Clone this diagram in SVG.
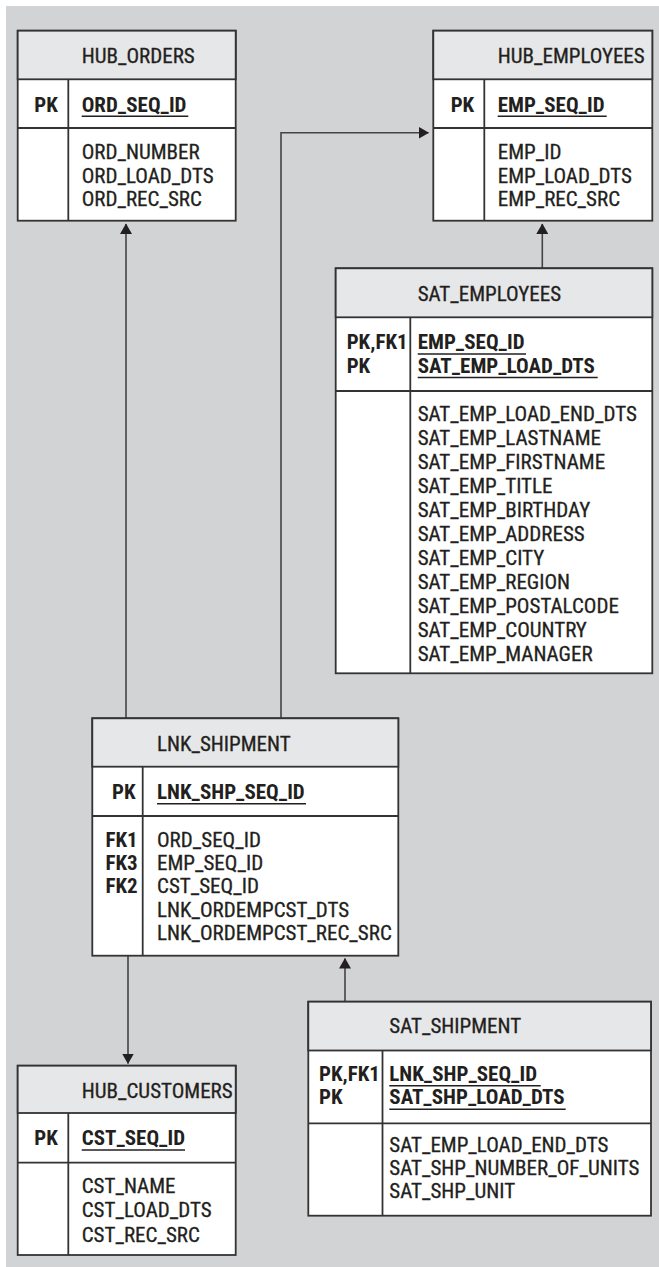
<svg xmlns="http://www.w3.org/2000/svg" width="659" height="1267" viewBox="0 0 659 1267">
  <defs>
    <marker id="arrow" markerUnits="userSpaceOnUse" markerWidth="11" markerHeight="12" refX="10" refY="6" orient="auto">
      <path d="M0,0 L10.5,6 L0,12 z" fill="#231f20"/>
    </marker>
  </defs>
  <style>
    .bg { fill: #d1d3d4; }
    .box { fill: #ffffff; stroke: #333333; stroke-width: 1.8; }
    .head { fill: #e6e7e8; stroke: #333333; stroke-width: 1.8; }
    .rule { stroke: #333333; stroke-width: 1.8; fill: none; }
    .ul { stroke: #231f20; stroke-width: 1.4; }
    .conn { stroke: #444444; stroke-width: 1.6; fill: none; marker-end: url(#arrow); }
    text { font-family: "Roboto Condensed", "Liberation Sans Narrow", "DejaVu Sans Condensed", "Liberation Sans", sans-serif; font-stretch: condensed; font-size: 21px; font-weight: 400; fill: #231f20; stroke: #231f20; stroke-width: 0.3; }
    .k { font-weight: bold; stroke-width: 0; }
  </style>

  <rect class="bg" x="6" y="6" width="653" height="1261"/>

  <!-- relationships -->
  <g id="connectors">
    <path class="conn" d="M126,718.3 V224"/>
    <path class="conn" d="M281,718.3 V132.7 H428.5"/>
    <path class="conn" d="M542.3,268.3 V224"/>
    <path class="conn" d="M128,955.7 V1063.5"/>
    <path class="conn" d="M345,1001.7 V958.5"/>
  </g>

  <!-- HUB_ORDERS -->
  <g id="hub_orders">
    <rect class="box" x="17.7" y="30.7" width="218" height="190"/>
    <rect class="head" x="17.7" y="30.7" width="218" height="48.6"/>
    <line class="rule" x1="17.7" y1="128" x2="235.7" y2="128"/>
    <line class="rule" x1="68.3" y1="79.3" x2="68.3" y2="220.7"/>
    <text x="81.7" y="62.7">HUB_ORDERS</text>
    <text class="k" x="34.3" y="111.7">PK</text>
    <text class="k" x="81.7" y="111.7">ORD_SEQ_ID</text>
    <line class="ul" x1="81.7" y1="116.3" x2="188.3" y2="116.3"/>
    <text x="81.7" y="159.3">ORD_NUMBER</text>
    <text x="81.7" y="182.6">ORD_LOAD_DTS</text>
    <text x="81.7" y="205.6">ORD_REC_SRC</text>
  </g>

  <!-- HUB_EMPLOYEES -->
  <g id="hub_employees">
    <rect class="box" x="433.3" y="30.7" width="219" height="190"/>
    <rect class="head" x="433.3" y="30.7" width="219" height="48.6"/>
    <line class="rule" x1="433.3" y1="128" x2="652.3" y2="128"/>
    <line class="rule" x1="484.3" y1="79.3" x2="484.3" y2="220.7"/>
    <text x="497.7" y="62.7">HUB_EMPLOYEES</text>
    <text class="k" x="450.7" y="111.7">PK</text>
    <text class="k" x="497.7" y="111.7">EMP_SEQ_ID</text>
    <line class="ul" x1="497.7" y1="116.3" x2="606.7" y2="116.3"/>
    <text x="497.7" y="159.3">EMP_ID</text>
    <text x="497.7" y="182.6">EMP_LOAD_DTS</text>
    <text x="497.7" y="205.6">EMP_REC_SRC</text>
  </g>

  <!-- SAT_EMPLOYEES -->
  <g id="sat_employees">
    <rect class="box" x="335.7" y="268.3" width="316.6" height="405"/>
    <rect class="head" x="335.7" y="268.3" width="316.6" height="49"/>
    <line class="rule" x1="335.7" y1="391" x2="652.3" y2="391"/>
    <line class="rule" x1="410.3" y1="317.3" x2="410.3" y2="673.3"/>
    <text x="417.7" y="300.7">SAT_EMPLOYEES</text>
    <text class="k" x="346.7" y="349">PK,FK1</text>
    <text class="k" x="346.7" y="372.7">PK</text>
    <text class="k" x="417.7" y="349">EMP_SEQ_ID</text>
    <line class="ul" x1="417.7" y1="354" x2="526" y2="354"/>
    <text class="k" x="417.7" y="372.7">SAT_EMP_LOAD_DTS</text>
    <line class="ul" x1="417.7" y1="377.5" x2="597.7" y2="377.5"/>
    <text x="417.7" y="420.7">SAT_EMP_LOAD_END_DTS</text>
    <text x="417.7" y="444.7">SAT_EMP_LASTNAME</text>
    <text x="417.7" y="468.7">SAT_EMP_FIRSTNAME</text>
    <text x="417.7" y="492.7">SAT_EMP_TITLE</text>
    <text x="417.7" y="516.7">SAT_EMP_BIRTHDAY</text>
    <text x="417.7" y="540.7">SAT_EMP_ADDRESS</text>
    <text x="417.7" y="564.7">SAT_EMP_CITY</text>
    <text x="417.7" y="588.7">SAT_EMP_REGION</text>
    <text x="417.7" y="612.7">SAT_EMP_POSTALCODE</text>
    <text x="417.7" y="636.7">SAT_EMP_COUNTRY</text>
    <text x="417.7" y="660.7">SAT_EMP_MANAGER</text>
  </g>

  <!-- LNK_SHIPMENT -->
  <g id="lnk_shipment">
    <rect class="box" x="92.3" y="718.3" width="306" height="237.4"/>
    <rect class="head" x="92.3" y="718.3" width="306" height="48.4"/>
    <line class="rule" x1="92.3" y1="816" x2="398.3" y2="816"/>
    <line class="rule" x1="142.7" y1="766.7" x2="142.7" y2="955.7"/>
    <text x="157" y="751">LNK_SHIPMENT</text>
    <text class="k" x="112" y="799.3">PK</text>
    <text class="k" x="105.5" y="846.7">FK1</text>
    <text class="k" x="105.5" y="870">FK3</text>
    <text class="k" x="105.5" y="893.3">FK2</text>
    <text class="k" x="157" y="799.3">LNK_SHP_SEQ_ID</text>
    <line class="ul" x1="157" y1="803.8" x2="306" y2="803.8"/>
    <text x="157" y="846.7">ORD_SEQ_ID</text>
    <text x="157" y="870">EMP_SEQ_ID</text>
    <text x="157" y="893.3">CST_SEQ_ID</text>
    <text x="157" y="916.6">LNK_ORDEMPCST_DTS</text>
    <text x="157" y="940">LNK_ORDEMPCST_REC_SRC</text>
  </g>

  <!-- SAT_SHIPMENT -->
  <g id="sat_shipment">
    <rect class="box" x="308.3" y="1001.7" width="342.7" height="214"/>
    <rect class="head" x="308.3" y="1001.7" width="342.7" height="48.8"/>
    <line class="rule" x1="308.3" y1="1123.3" x2="651" y2="1123.3"/>
    <line class="rule" x1="382.5" y1="1050.5" x2="382.5" y2="1215.7"/>
    <text x="389.3" y="1033.3">SAT_SHIPMENT</text>
    <text class="k" x="319" y="1080.7">PK,FK1</text>
    <text class="k" x="319" y="1104.3">PK</text>
    <text class="k" x="389.3" y="1080.7">LNK_SHP_SEQ_ID</text>
    <line class="ul" x1="389.3" y1="1085.7" x2="540.7" y2="1085.7"/>
    <text class="k" x="389.3" y="1104.3">SAT_SHP_LOAD_DTS</text>
    <line class="ul" x1="389.3" y1="1109.3" x2="565.7" y2="1109.3"/>
    <text x="389.3" y="1151.7">SAT_EMP_LOAD_END_DTS</text>
    <text x="389.3" y="1175">SAT_SHP_NUMBER_OF_UNITS</text>
    <text x="389.3" y="1198.3">SAT_SHP_UNIT</text>
  </g>

  <!-- HUB_CUSTOMERS -->
  <g id="hub_customers">
    <rect class="box" x="17.7" y="1065.7" width="218" height="189.3"/>
    <rect class="head" x="17.7" y="1065.7" width="218" height="47.3"/>
    <line class="rule" x1="17.7" y1="1162.7" x2="235.7" y2="1162.7"/>
    <line class="rule" x1="68.3" y1="1113" x2="68.3" y2="1255"/>
    <text x="81.7" y="1098.3">HUB_CUSTOMERS</text>
    <text class="k" x="34.3" y="1144.5">PK</text>
    <text class="k" x="81.7" y="1144.5">CST_SEQ_ID</text>
    <line class="ul" x1="81.7" y1="1150" x2="185" y2="1150"/>
    <text x="81.7" y="1193.3">CST_NAME</text>
    <text x="81.7" y="1217.3">CST_LOAD_DTS</text>
    <text x="81.7" y="1241.7">CST_REC_SRC</text>
  </g>
</svg>
